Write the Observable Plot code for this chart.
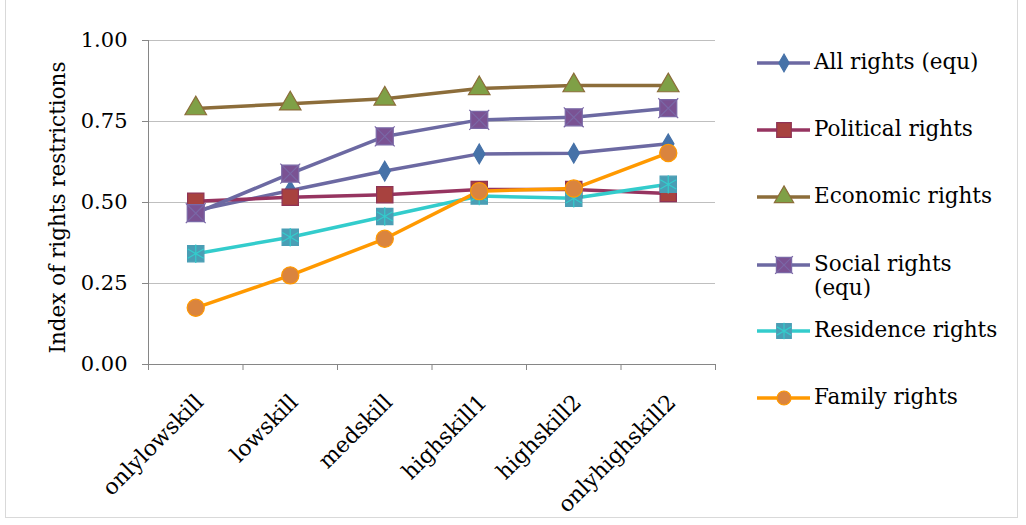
<!DOCTYPE html>
<html><head><meta charset="utf-8">
<script src="https://cdn.jsdelivr.net/npm/d3@7"></script>
<script src="https://cdn.jsdelivr.net/npm/@observablehq/plot@0.6"></script>
<style>
body{margin:0;background:#fff;font-family:"DejaVu Serif",serif}
#wrap{position:relative;width:1026px;height:525px;overflow:hidden}
#frame{position:absolute;left:5px;top:-1px;width:1013px;height:519px;border:1px solid #d9d9d9;box-sizing:border-box}
#chart{position:absolute;left:0;top:0}
#legend{position:absolute;left:755px;top:0;width:270px}
.item{position:absolute;left:0;display:flex;align-items:flex-start;font-size:21.5px;color:#000;line-height:24px}
.item svg{flex:none;margin-right:2px}
</style></head>
<body>
<div id="wrap"><div id="frame"></div><div id="chart"></div><div id="legend"></div></div>
<script>
const categories = ["onlylowskill","lowskill","medskill","highskill1","highskill2","onlyhighskill2"];
const seriesNames = ["All rights (equ)","Political rights","Economic rights","Social rights (equ)","Residence rights","Family rights"];
const allRights = [0.475, 0.537, 0.597, 0.650, 0.652, 0.681];
const political = [0.504, 0.516, 0.524, 0.540, 0.540, 0.528];
const economic  = [0.790, 0.805, 0.820, 0.852, 0.861, 0.861];
const social    = [0.467, 0.589, 0.704, 0.755, 0.763, 0.791];
const residence = [0.342, 0.393, 0.457, 0.520, 0.513, 0.556];
const family    = [0.175, 0.275, 0.388, 0.535, 0.543, 0.653];
const yTicks = [0, 0.25, 0.5, 0.75, 1];
const yLabel = "Index of rights restrictions";

const values = [allRights, political, economic, social, residence, family];
const styles = [
  {line:"#6c69a2", fill:"#4672a8", stroke:"#4672a8", symbol:"diamond", r:6},
  {line:"#963460", fill:"#a8423f", stroke:"#8f3356", symbol:"square", r:9.2},
  {line:"#8c6d3a", fill:"#7fa046", stroke:"#8c6d3a", symbol:"triangle", r:8},
  {line:"#6c69a2", fill:"#7a5293", stroke:"#7a68a6", symbol:"square", r:9.6, over:"times"},
  {line:"#33cccc", fill:"#4a9eb5", stroke:"#4a9eb5", symbol:"square", r:9.2, over:"asterisk", overColor:"#33cccc"},
  {line:"#ff9900", fill:"#da843e", stroke:"#ff9900", symbol:"circle", r:8.6}
];

const rows = [];
seriesNames.forEach((s, si) => categories.forEach((c, i) => rows.push({series: s, si, cat: c, xi: i + 0.5, value: values[si][i]})));

const marks = [
  Plot.gridY(yTicks, {stroke:"#bfbfbf", strokeOpacity:1}),
  Plot.axisY(yTicks, {label: null, tickFormat: d3.format(".2f"), tickSize:6, tickPadding:15, fontSize:21, stroke:"#868686", fill:"#000"}),
  Plot.axisX(d3.range(categories.length + 1), {label: null, tickSize:6, tickFormat: () => "", stroke:"#868686"}),
  Plot.ruleX([0], {stroke:"#868686"}),
  Plot.ruleY([0], {stroke:"#868686"}),
  Plot.text(categories, {x: (d, i) => i + 0.5, y: () => 0, text: d => d, rotate: -45, textAnchor: "end", dx: 4, dy: 34, fontSize: 22, fill:"#000"}),
  Plot.text([yLabel], {frameAnchor: "left", textAnchor: "middle", text: d => d, rotate: -90, dx: -90, dy: 5, fontSize: 21.5, fill:"#000"})
];
seriesNames.forEach((s, si) => {
  const d = rows.filter(r => r.si === si);
  const st = styles[si];
  marks.push(Plot.line(d, {x:"xi", y:"value", stroke: st.line, strokeWidth: 3.5}));
});
seriesNames.forEach((s, si) => {
  const d = rows.filter(r => r.si === si);
  const st = styles[si];
  marks.push(Plot.dot(d, {x:"xi", y:"value", symbol: st.symbol, r: st.r, fill: st.fill, stroke: st.stroke, strokeWidth: 1.2, fillOpacity:1}));
  if (st.over) marks.push(Plot.dot(d, {x:"xi", y:"value", symbol: st.over, r: st.r * 0.95, stroke: st.overColor || st.stroke, strokeWidth: 1.2}));
});

const chart = Plot.plot({
  width: 740, height: 525,
  marginTop: 40, marginBottom: 161, marginLeft: 148, marginRight: 25,
  style: {fontFamily: "DejaVu Serif, serif", background: "transparent"},
  x: {type: "linear", domain: [0, categories.length], axis: null},
  y: {domain: [0, 1], axis: null},
  marks
});
document.getElementById("chart").appendChild(chart);

// Legend
const legend = document.getElementById("legend");
const legendTops = [50, 117, 184, 252, 318, 385];
seriesNames.forEach((s, si) => {
  const st = styles[si];
  const item = document.createElement("div");
  item.className = "item";
  item.style.top = legendTops[si] + "px";
  const svg = d3.create("svg").attr("width", 57).attr("height", 26);
  svg.append("line").attr("x1", 2).attr("x2", 55).attr("y1", 13).attr("y2", 13).attr("stroke", st.line).attr("stroke-width", 3.5);
  const symMap = {diamond: d3.symbolDiamond, square: d3.symbolSquare, triangle: d3.symbolTriangle, circle: d3.symbolCircle, times: d3.symbolTimes, asterisk: d3.symbolAsterisk};
  const size = st.symbol === "circle" ? Math.PI * 7 * 7 : Math.PI * st.r * st.r * 0.8;
  svg.append("path").attr("d", d3.symbol(symMap[st.symbol], size)()).attr("transform", "translate(29,13)").attr("fill", st.fill).attr("stroke", st.stroke).attr("stroke-width", 1.2);
  if (st.over) svg.append("path").attr("d", d3.symbol(symMap[st.over], size * 0.9)()).attr("transform", "translate(29,13)").attr("fill", "none").attr("stroke", st.overColor || st.stroke).attr("stroke-width", 1.2);
  item.appendChild(svg.node());
  const label = document.createElement("div");
  label.style.width = "200px";
  label.textContent = s;
  if (si === 3) { label.innerHTML = "Social rights<br>(equ)"; }
  item.appendChild(label);
  legend.appendChild(item);
});
</script>
</body></html>
